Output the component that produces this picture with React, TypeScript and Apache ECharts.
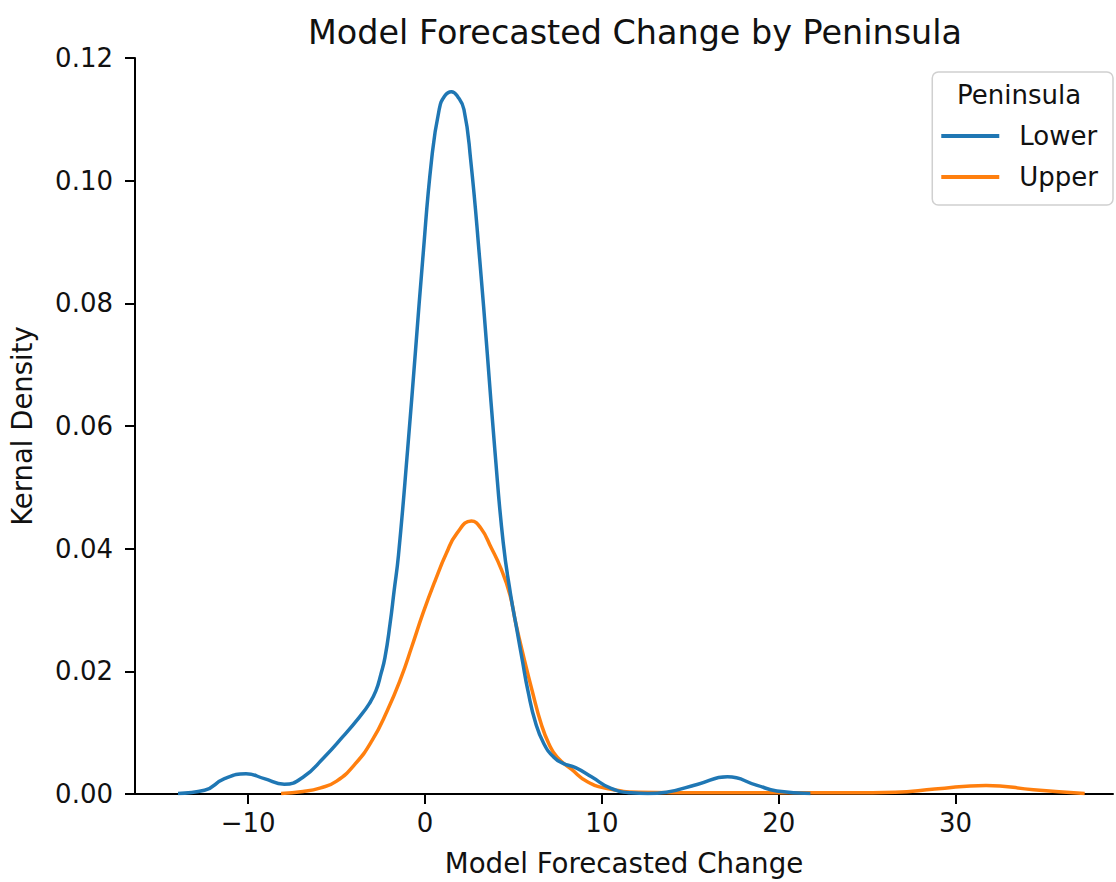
import React, { useEffect, useRef } from "react";
import * as echarts from "echarts";

const title = "Model Forecasted Change by Peninsula";
const xAxisName = "Model Forecasted Change";
const yAxisName = "Kernal Density";
const legendTitle = "Peninsula";
const seriesNames = ["Lower", "Upper"];
const xTicks = [-10, 0, 10, 20, 30];

const lowerX = [
  -13.97, -12.47, -11.34, -10.12, -9.09, -7.96, -6.92, -5.7, -4.66, -3.72, -3.16, -2.78, -2.5, -2.27,
  -1.98, -1.75, -1.5, -0.98, -0.53, -0.13, 0.37, 0.8, 1.11, 1.49, 1.85, 2.2, 2.58, 3.09, 3.52, 3.95,
  4.42, 4.84, 5.18, 5.5, 5.82, 6.25, 6.72, 7.28, 7.8, 8.51, 9.41, 10.52, 11.64, 12.6, 13.64, 15.43,
  17.1, 18.78, 19.89, 21.79,
];
const lowerY = [
  0.0001, 0.0006, 0.0025, 0.0033, 0.0025, 0.0016, 0.0027, 0.006, 0.0093, 0.0125, 0.0147, 0.0168, 0.0195, 0.0222,
  0.0277, 0.0331, 0.039, 0.0563, 0.0726, 0.0872, 0.1034, 0.1116, 0.1138, 0.1145, 0.1137, 0.1116, 0.1034, 0.0872, 0.0718, 0.056,
  0.041, 0.0325, 0.027, 0.0218, 0.0168, 0.0116, 0.0082, 0.006, 0.005, 0.0043, 0.0028, 0.0009, 0.0002, 0.0001, 0.0003, 0.0016,
  0.0028, 0.0014, 0.0005, 0.0001,
];

const upperX = [
  -8.14, -6.9, -5.9, -5.0, -3.95, -3.0, -2.15, -1.35, -0.75, -0.1, 0.6, 1.2, 1.8, 2.62, 3.14, 3.75,
  4.3, 4.8, 5.12, 5.59, 6.06, 6.57, 7.0, 7.47, 8.29, 9.18, 10.3, 12.08, 16, 20, 24, 26.59,
  28.82, 31.72, 34.4, 37.3,
];
const upperY = [
  0.0001, 0.0004, 0.001, 0.0021, 0.0049, 0.0087, 0.0135, 0.019, 0.024, 0.0296, 0.035, 0.0392, 0.0425, 0.0445, 0.0434, 0.0401,
  0.0367, 0.0325, 0.028, 0.0222, 0.0168, 0.0114, 0.0082, 0.006, 0.004, 0.002, 0.0009, 0.0003, 0.0002, 0.0002, 0.0002, 0.0003,
  0.0008, 0.0014, 0.0007, 0.0001,
];

const colors = { Lower: "#1f77b4", Upper: "#ff7f0e" };
const FONT = "DejaVu Sans";

export default function App() {
  const ref = useRef<HTMLDivElement>(null);
  useEffect(() => {
    if (!ref.current) return;
    const chart = echarts.init(ref.current, undefined, { renderer: "svg" });
    const lowerData = lowerX.map((x, i) => [x, lowerY[i]]);
    const upperData = upperX.map((x, i) => [x, upperY[i]]);
    const fmtX = (v: number) => String(v).replace("-", "\u2212");
    chart.setOption({
      animation: false,
      backgroundColor: "#fff",
      textStyle: { fontFamily: FONT },
      title: {
        text: title,
        left: 630,
        textAlign: "center",
        top: 11,
        textStyle: { fontFamily: FONT, fontSize: 33.4, fontWeight: "normal", color: "#111" },
      },
      grid: { left: 134, right: 3, top: 58, bottom: 85, containLabel: false },
      xAxis: {
        type: "value",
        min: -16.4,
        max: 38.9,
        name: xAxisName,
        nameLocation: "middle",
        nameGap: 55,
        nameTextStyle: { fontFamily: FONT, fontSize: 27.7, color: "#111" },
        splitLine: { show: false },
        axisLine: { show: true, onZero: false, lineStyle: { color: "#000", width: 2 } },
        axisTick: { show: true, length: 10, lineStyle: { color: "#000", width: 2 }, customValues: xTicks },
        axisLabel: {
          fontFamily: FONT,
          fontSize: 26,
          color: "#111",
          margin: 16,
          customValues: xTicks,
          formatter: (v: number) => (xTicks.includes(v) ? fmtX(v) : ""),
        },
      },
      yAxis: {
        type: "value",
        min: 0,
        max: 0.12,
        interval: 0.02,
        name: yAxisName,
        nameLocation: "middle",
        nameGap: 99,
        nameTextStyle: { fontFamily: FONT, fontSize: 27.5, color: "#111" },
        splitLine: { show: false },
        axisLine: { show: true, onZero: false, lineStyle: { color: "#000", width: 2 } },
        axisTick: { show: true, length: 10, lineStyle: { color: "#000", width: 2 } },
        axisLabel: {
          fontFamily: FONT,
          fontSize: 26,
          color: "#111",
          margin: 22,
          formatter: (v: number) => v.toFixed(2),
        },
      },
      legend: {
        data: seriesNames,
        orient: "vertical",
        right: 3,
        top: 72,
        padding: [51, 15, 15, 9],
        itemWidth: 58,
        itemHeight: 4,
        itemGap: 15,
        icon: "rect",
        borderColor: "#d0d0d0",
        borderWidth: 1.5,
        borderRadius: 6,
        backgroundColor: "rgba(255,255,255,0.8)",
        textStyle: { fontFamily: FONT, fontSize: 26, color: "#111", padding: [0, 0, 0, 15] },
      },
      graphic: [
        {
          type: "text",
          x: 1019,
          y: 95,
          z: 100,
          style: {
            text: legendTitle,
            fontFamily: FONT,
            fontSize: 26,
            fill: "#111",
            align: "center",
            verticalAlign: "middle",
          },
        },
      ],
      series: [
        {
          name: "Upper",
          type: "line",
          data: upperData,
          smooth: 0.5,
          showSymbol: false,
          symbol: "none",
          lineStyle: { color: colors.Upper, width: 3.5 },
          itemStyle: { color: colors.Upper },
          z: 2,
        },
        {
          name: "Lower",
          type: "line",
          data: lowerData,
          smooth: 0.5,
          showSymbol: false,
          symbol: "none",
          lineStyle: { color: colors.Lower, width: 3.5 },
          itemStyle: { color: colors.Lower },
          z: 3,
        },
      ],
    });
    return () => chart.dispose();
  }, []);
  return (
    <div
      ref={ref}
      style={{ position: "fixed", left: 0, top: 0, width: 1116, height: 882, background: "#fff" }}
    />
  );
}
